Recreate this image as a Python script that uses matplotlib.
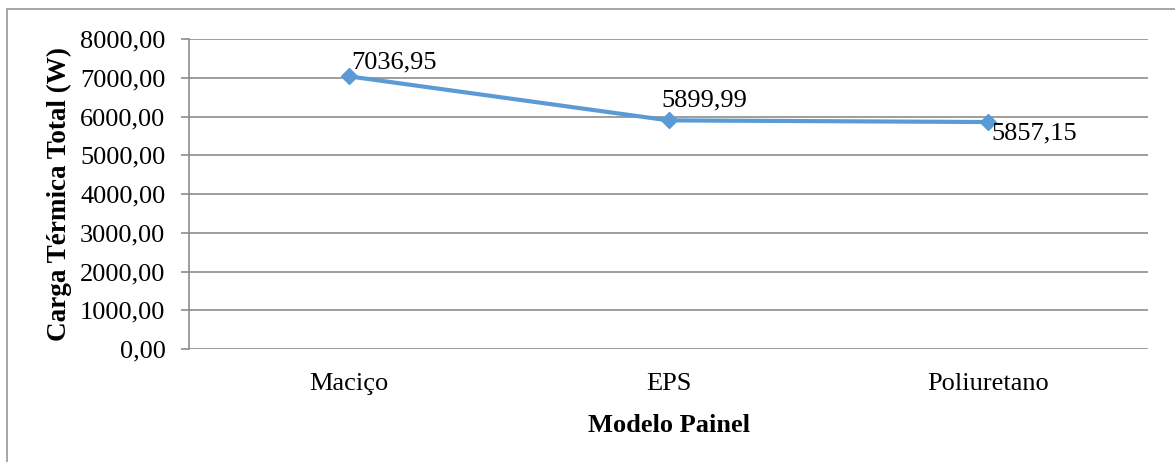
import matplotlib

matplotlib.use("Agg")
import matplotlib.pyplot as plt
from matplotlib.patches import Rectangle

plt.rcParams["font.family"] = ["Liberation Serif", "DejaVu Serif"]

paineis = ["Maciço", "EPS", "Poliuretano"]
carga_w = [7036.95, 5899.99, 5857.15]
y_ticks = [0, 1000, 2000, 3000, 4000, 5000, 6000, 7000, 8000]

# label offsets in points (dx, dy) for each data label
label_pos = [(2, 10), (-5, 14), (2, -8)]

grid_color = "#8c8c8c"
line_color = "#5b9bd5"


def fmt_br(v):
    return f"{v:.2f}".replace(".", ",")


fig = plt.figure(figsize=(11.75, 4.62), dpi=100)
# chart frame (right/bottom edges run off the canvas)
fig.patches.append(Rectangle((7 / 1175, -0.05), 1.1, 1 - 9 / 462 + 0.05,
                             transform=fig.transFigure, fill=False,
                             edgecolor="#a6a6a6", linewidth=1.4))
ax = fig.add_axes([189 / 1175, 1 - 349 / 462, (1148 - 189) / 1175, (349 - 39) / 462])

x = list(range(len(paineis)))
ax.plot(x, carga_w, color=line_color, linewidth=3, marker="D", markersize=8,
        markeredgecolor=line_color, zorder=3)

for xi, v, (dx, dy) in zip(x, carga_w, label_pos):
    ax.annotate(fmt_br(v), (xi, v), xytext=(dx, dy), textcoords="offset points",
                ha="left", va="center", fontsize=19)

ax.set_xlim(-0.5, len(paineis) - 0.5)
ax.set_ylim(0, 8000)
ax.set_yticks(y_ticks)
ax.set_yticklabels([fmt_br(t) for t in y_ticks], fontsize=19)
ax.set_xticks(x)
ax.set_xticklabels(paineis, fontsize=19)
ax.tick_params(axis="x", length=0, pad=17)
ax.tick_params(axis="y", length=6, color=grid_color, width=1.2, pad=11)
ax.grid(axis="y", color=grid_color, linewidth=1.2)
ax.set_axisbelow(True)
for side in ["top", "right", "bottom"]:
    ax.spines[side].set_visible(False)
ax.spines["left"].set_color(grid_color)
ax.spines["left"].set_linewidth(1.2)

ax.set_xlabel("Modelo Painel", fontsize=19, fontweight="bold", labelpad=14)
ax.set_ylabel("Carga Térmica Total (W)", fontsize=19.5, fontweight="bold", labelpad=6)

fig.savefig("out.png", dpi=100)
